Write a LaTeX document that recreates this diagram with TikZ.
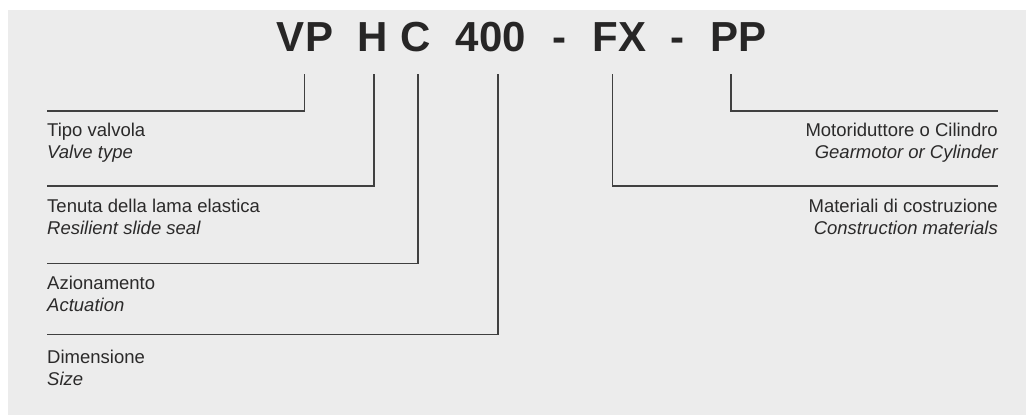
\documentclass[tikz,border=0pt]{standalone}
\usepackage{fontspec}
\setmainfont{Liberation Sans}
\definecolor{bg}{HTML}{ECECEC}
\definecolor{txt}{HTML}{2B2A2A}
\definecolor{ln}{HTML}{404040}
\begin{document}
\begin{tikzpicture}[x=1pt,y=-1pt,
  code/.style={inner sep=0pt, anchor=base, text=txt!90!black, font=\fontsize{42}{48}\selectfont\bfseries},
  lbl/.style={inner sep=0pt, text=txt, font=\fontsize{18.5}{22}\selectfont},
  conn/.style={draw=ln, line width=1.5pt}]
\useasboundingbox (0,0) rectangle (1026,415);
\fill[bg] (8,10) rectangle (1026,415);
% code
\node[code] (vp) at (305,51.7) {VP};
\node[code] (h) at (372.8,51.7) {H};
\node[code] (c) at (415.7,51.7) {C};
\node[code] (n400) at (491,51.7) {400};
\node[code] (d1) at (559.3,51.7) {-};
\node[code] (fx) at (619.2,51.7) {FX};
\node[code] (d2) at (677.3,51.7) {-};
\node[code] (pp) at (738.4,51.7) {PP};
% connector ends
\coordinate (tvp) at (304.3,74);
\coordinate (th) at (374,74);
\coordinate (tc) at (418,74);
\coordinate (t400) at (498,74);
\coordinate (tfx) at (612.7,74);
\coordinate (tpp) at (731,74);
\coordinate (evp) at (47,111);
\coordinate (eh) at (47,186);
\coordinate (ec) at (47,263.3);
\coordinate (e400) at (47,334.7);
\coordinate (efx) at (998,186);
\coordinate (epp) at (998,111);
\draw[conn] (tvp) |- (evp);
\draw[conn] (th) |- (eh);
\draw[conn] (tc) |- (ec);
\draw[conn] (t400) |- (e400);
\draw[conn] (tfx) |- (efx);
\draw[conn] (tpp) |- (epp);
% left labels
\node[lbl, anchor=base west] (l1a) at (47,136.5) {Tipo valvola};
\node[lbl, anchor=base west] (l1b) at (47,158.5) {\itshape Valve type};
\node[lbl, anchor=base west] (l2a) at (47,212.5) {Tenuta della lama elastica};
\node[lbl, anchor=base west] (l2b) at (47,234.5) {\itshape Resilient slide seal};
\node[lbl, anchor=base west] (l3a) at (47,289.3) {Azionamento};
\node[lbl, anchor=base west] (l3b) at (47,311.3) {\itshape Actuation};
\node[lbl, anchor=base west] (l4a) at (47,363.3) {Dimensione};
\node[lbl, anchor=base west] (l4b) at (47,385.3) {\itshape Size};
% right labels
\node[lbl, anchor=base east] (r1a) at (998,136.5) {Motoriduttore o Cilindro};
\node[lbl, anchor=base east] (r1b) at (998,158.5) {\itshape Gearmotor or Cylinder};
\node[lbl, anchor=base east] (r2a) at (998,212.5) {Materiali di costruzione};
\node[lbl, anchor=base east] (r2b) at (998,234.5) {\itshape Construction materials};
\end{tikzpicture}
\end{document}
